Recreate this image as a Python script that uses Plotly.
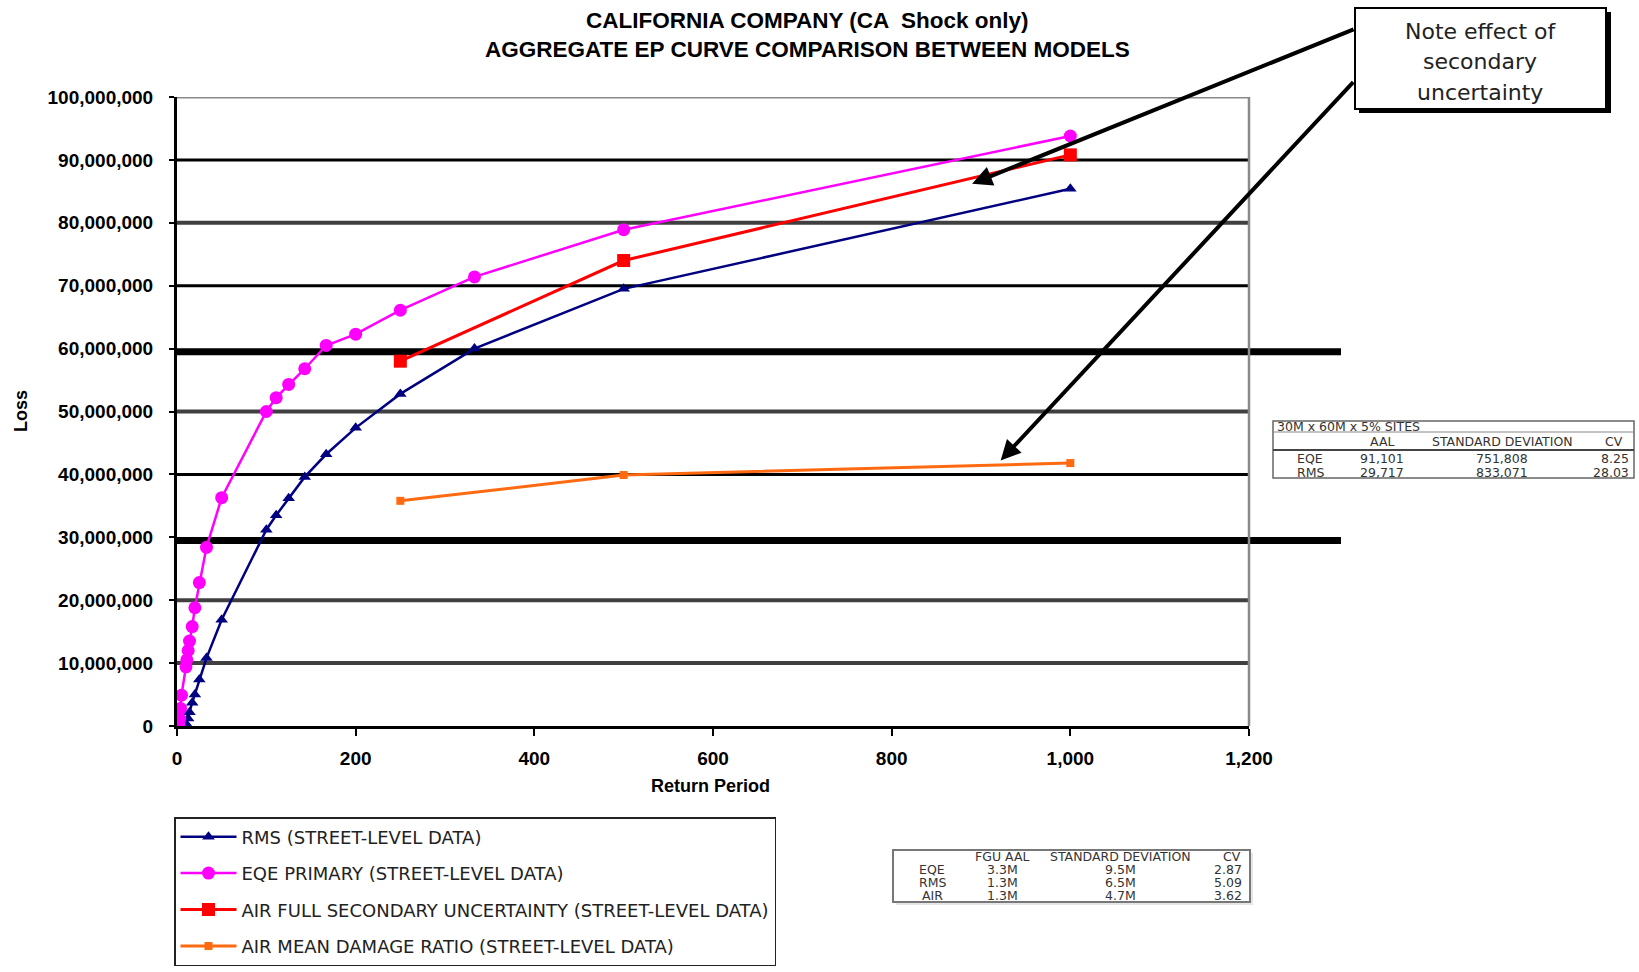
import plotly.graph_objects as go

# ---------------- data ----------------
rms_rp = [1000, 500, 333, 250, 200, 167, 143, 125, 111, 100, 50, 33, 25, 20, 17, 14, 12.5, 10, 5]
rms_loss = [85.4, 69.5, 60.0, 52.8, 47.4, 43.2, 39.6, 36.2, 33.5, 31.2, 16.9, 10.8, 7.4, 5.0, 3.7, 2.2, 1.2, 0.4, 0.0]

eqe_rp = [1000, 500, 333, 250, 200, 167, 143, 125, 111, 100, 50, 33, 25, 20, 17, 14, 12.5, 11, 10, 5, 4, 3, 2]
eqe_loss = [93.8, 78.9, 71.4, 66.1, 62.3, 60.5, 56.8, 54.3, 52.2, 50.0, 36.3, 28.4, 22.8, 18.8, 15.8, 13.5,
            12.0, 10.5, 9.4, 4.9, 2.8, 1.1, 0.3]

air_full_rp = [250, 500, 1000]
air_full_loss = [58.0, 74.0, 90.8]

air_mdr_rp = [250, 500, 1000]
air_mdr_loss = [35.8, 39.9, 41.8]

series_names = [
    "RMS (STREET-LEVEL DATA)",
    "EQE PRIMARY (STREET-LEVEL DATA)",
    "AIR FULL SECONDARY UNCERTAINTY (STREET-LEVEL DATA)",
    "AIR MEAN DAMAGE RATIO (STREET-LEVEL DATA)",
]

y_ticks = [0, 10e6, 20e6, 30e6, 40e6, 50e6, 60e6, 70e6, 80e6, 90e6, 100e6]
x_ticks = [0, 200, 400, 600, 800, 1000, 1200]

t1_title = "30M x 60M x 5% SITES"
t1_cols = ["", "AAL", "STANDARD DEVIATION", "CV"]
t1_rows = [["EQE", "91,101", "751,808", "8.25"],
           ["RMS", "29,717", "833,071", "28.03"]]

t2_cols = ["", "FGU AAL", "STANDARD DEVIATION", "CV"]
t2_rows = [["EQE", "3.3M", "9.5M", "2.87"],
           ["RMS", "1.3M", "6.5M", "5.09"],
           ["AIR", "1.3M", "4.7M", "3.62"]]

note_lines = ["Note effect of", "secondary", "uncertainty"]

M = 1e6

# ---------------- layout geometry (pixels) ----------------
W, H = 1639, 972
L, R, T, B = 177, 1249, 97, 726


def px(x):
    return (x - L) / (R - L)


def py(y):
    return (B - y) / (B - T)


fig = go.Figure()

fig.add_trace(go.Scatter(
    x=rms_rp, y=[v * M for v in rms_loss], name=series_names[0], mode="lines+markers",
    line=dict(color="#000080", width=2.5),
    marker=dict(symbol="triangle-up", size=11, color="#000080"),
    legendgroup="g1"))
fig.add_trace(go.Scatter(
    x=eqe_rp, y=[v * M for v in eqe_loss], name=series_names[1], mode="lines+markers",
    line=dict(color="#FF00FF", width=2.5),
    marker=dict(symbol="circle", size=13, color="#FF00FF"),
    legendgroup="g2"))
fig.add_trace(go.Scatter(
    x=air_full_rp, y=[v * M for v in air_full_loss], name=series_names[2], mode="lines+markers",
    line=dict(color="#FF0000", width=3),
    marker=dict(symbol="square", size=13, color="#FF0000"),
    legendgroup="g3"))
fig.add_trace(go.Scatter(
    x=air_mdr_rp, y=[v * M for v in air_mdr_loss], name=series_names[3], mode="lines+markers",
    line=dict(color="#FF6A10", width=3),
    marker=dict(symbol="square", size=8, color="#FF6A10"),
    legendgroup="g4"))

shapes = []
# gridlines with differing weights
grid_style = {
    10e6: ("#404040", 4, 1.0), 20e6: ("#404040", 4, 1.0), 30e6: ("#000000", 7, 1.0858),
    40e6: ("#000000", 3, 1.0), 50e6: ("#404040", 4, 1.0), 60e6: ("#000000", 7, 1.0858),
    70e6: ("#000000", 3, 1.0), 80e6: ("#404040", 4, 1.0), 90e6: ("#000000", 3, 1.0),
    100e6: ("#8a8a8a", 3, 1.0),
}
offset = {30e6: -0.5e6, 60e6: -0.5e6}
for v in y_ticks:
    if v in grid_style:
        c, w, x1 = grid_style[v]
        yy = v + offset.get(v, 0)
        shapes.append(dict(type="line", xref="paper", yref="y", x0=0, x1=x1, y0=yy, y1=yy,
                           line=dict(color=c, width=w), layer="below"))
# right border
shapes.append(dict(type="line", xref="paper", yref="paper", x0=1, x1=1, y0=0, y1=1,
                   line=dict(color="#8a8a8a", width=2.5), layer="below"))

# note box with shadow
shapes.append(dict(type="rect", xref="paper", yref="paper", x0=px(1359), x1=px(1611), y0=py(113), y1=py(12),
                   fillcolor="#000000", line=dict(width=0), layer="above"))
shapes.append(dict(type="rect", xref="paper", yref="paper", x0=px(1355), x1=px(1606), y0=py(109), y1=py(8),
                   fillcolor="#ffffff", line=dict(color="#000000", width=2), layer="above"))

# table 1
shapes.append(dict(type="rect", xref="paper", yref="paper", x0=px(1273), x1=px(1634), y0=py(478), y1=py(421),
                   fillcolor="#ffffff", line=dict(color="#666666", width=1.5), layer="above"))
shapes.append(dict(type="line", xref="paper", yref="paper", x0=px(1273), x1=px(1634), y0=py(432), y1=py(432),
                   line=dict(color="#888888", width=1), layer="above"))
shapes.append(dict(type="line", xref="paper", yref="paper", x0=px(1273), x1=px(1634), y0=py(450), y1=py(450),
                   line=dict(color="#444444", width=2), layer="above"))
# table 2
shapes.append(dict(type="rect", xref="paper", yref="paper", x0=px(896), x1=px(1253), y0=py(905), y1=py(853),
                   fillcolor="#e6e6e6", line=dict(width=0), layer="above"))
shapes.append(dict(type="rect", xref="paper", yref="paper", x0=px(893), x1=px(1250), y0=py(902), y1=py(850),
                   fillcolor="#ffffff", line=dict(color="#777777", width=2), layer="above"))

annotations = []
tfont = dict(family="Liberation Sans", size=22.5, color="#000000", weight="bold")
annotations.append(dict(text="CALIFORNIA COMPANY (CA  Shock only)", xref="paper", yref="paper",
                        x=px(807), y=py(21), xanchor="center", yanchor="middle", showarrow=False, font=tfont))
annotations.append(dict(text="AGGREGATE EP CURVE COMPARISON BETWEEN MODELS", xref="paper", yref="paper",
                        x=px(807), y=py(50), xanchor="center", yanchor="middle", showarrow=False, font=tfont))
afont = dict(family="Liberation Sans", size=18, color="#000000", weight="bold")
annotations.append(dict(text="Return Period", xref="paper", yref="paper", x=px(710), y=py(786),
                        xanchor="center", yanchor="middle", showarrow=False, font=afont))
annotations.append(dict(text="Loss", xref="paper", yref="paper", x=px(21), y=py(411), textangle=-90,
                        xanchor="center", yanchor="middle", showarrow=False, font=afont))

# note text
for k, (line, yy) in enumerate(zip(note_lines, [32, 62, 92])):
    annotations.append(dict(text=line, xref="paper", yref="paper", x=px(1480), y=py(yy),
                            xanchor="center", yanchor="middle", showarrow=False,
                            font=dict(family="DejaVu Sans", size=22, color="#222222")))
# arrows
annotations.append(dict(text="", x=890, y=86.2e6, xref="x", yref="y", ax=383, ay=-155,
                        showarrow=True, arrowhead=2, arrowsize=1, arrowwidth=4, arrowcolor="#000000"))
annotations.append(dict(text="", x=922, y=42.2e6, xref="x", yref="y", ax=354, ay=-380,
                        showarrow=True, arrowhead=2, arrowsize=1, arrowwidth=4, arrowcolor="#000000"))

# table 1 text
cfont = dict(family="DejaVu Sans", size=12.5, color="#333333")
annotations.append(dict(text=t1_title, xref="paper", yref="paper", x=px(1275), y=py(426.5),
                        xanchor="left", yanchor="middle", showarrow=False, font=cfont))
t1_x = [1310, 1382, 1502, 1631]
t1_y = [442, 458, 472]
for j, c in enumerate(t1_cols):
    if c:
        annotations.append(dict(text=c, xref="paper", yref="paper", x=px(t1_x[j] if j < 3 else 1614), y=py(t1_y[0]),
                                xanchor="center", yanchor="middle", showarrow=False, font=cfont))
for i, row in enumerate(t1_rows):
    for j, c in enumerate(row):
        annotations.append(dict(text=c, xref="paper", yref="paper", x=px(t1_x[j]), y=py(t1_y[i + 1]),
                                xanchor="right" if j == 3 else "center", yanchor="middle",
                                showarrow=False, font=cfont))
# table 2 text
t2_x = [932, 1002, 1120, 1244]
t2_y = [856, 869, 882, 895]
for j, c in enumerate(t2_cols):
    if c:
        annotations.append(dict(text=c, xref="paper", yref="paper", x=px(t2_x[j] if j < 3 else 1232), y=py(t2_y[0]),
                                xanchor="center", yanchor="middle", showarrow=False, font=cfont))
for i, row in enumerate(t2_rows):
    for j, c in enumerate(row):
        annotations.append(dict(text=c, xref="paper", yref="paper", x=px(t2_x[j]), y=py(t2_y[i + 1]),
                                xanchor="right" if j == 3 else "center", yanchor="middle",
                                showarrow=False, font=cfont))

tickfont = dict(family="Liberation Sans", size=19, color="#000000", weight="bold")

fig.update_layout(
    width=W, height=H,
    margin=dict(l=L, r=W - R, t=T, b=H - B, autoexpand=False),
    paper_bgcolor="#ffffff", plot_bgcolor="#ffffff",
    showlegend=True,
    legend=dict(x=px(174), y=py(817), xanchor="left", yanchor="top",
                bordercolor="#222222", borderwidth=1.5, bgcolor="#ffffff",
                font=dict(family="DejaVu Sans", size=18, color="#222222"),
                traceorder="grouped", tracegroupgap=10, itemwidth=56),
    xaxis=dict(range=[0, 1200], tickvals=x_ticks, tickformat=",d", showgrid=False, zeroline=False,
               showline=True, linecolor="#000000", linewidth=3, ticks="outside", ticklen=7, tickwidth=2,
               tickcolor="#000000", tickfont=tickfont, ticklabelstandoff=6),
    yaxis=dict(range=[0, 100e6], tickvals=y_ticks, tickformat=",d", showgrid=False, zeroline=False,
               showline=True, linecolor="#000000", linewidth=3, ticks="outside", ticklen=5, tickwidth=2,
               tickcolor="#000000", tickfont=tickfont, ticklabelstandoff=12),
    shapes=shapes,
    annotations=annotations,
)

fig.write_html("out.html")
